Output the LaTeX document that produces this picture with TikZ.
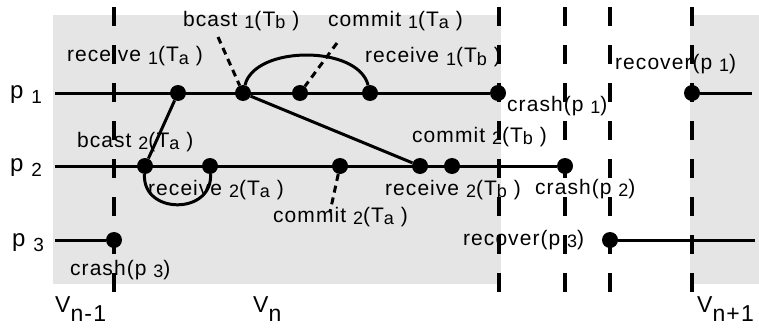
\documentclass[tikz,border=0pt]{standalone}
\usepackage{fontspec}
\setmainfont{Liberation Sans}[LetterSpace=5]
\newcommand{\lo}[1]{\raisebox{-2pt}{\fontsize{18}{18}\selectfont #1}}
\newcommand{\pidx}[1]{\raisebox{-5pt}{\fontsize{19}{19}\selectfont #1}}
\newcommand{\vidx}[1]{\raisebox{-9pt}{#1}}

\begin{document}
\begin{tikzpicture}[x=1pt, y=-1pt,
    every node/.style={font=\fontsize{21}{25}\selectfont},
    dot/.style={circle, fill=black, inner sep=0pt, minimum size=16pt},
    proc/.style={line width=3pt},
    view/.style={line width=4pt, dash pattern=on 19pt off 19pt},
    hint/.style={line width=3pt, dash pattern=on 7pt off 5pt},
    lbl/.style={anchor=base west, inner sep=0pt}]

    \useasboundingbox (0,0) rectangle (759,329);

    % Grey view areas
    \fill[gray!20] (53,15) rectangle (501,284);
    \fill[gray!20] (690,15) rectangle (759,284);

    % View boundaries
    \foreach \x in {114,499,565,610,692}
        \draw[view] (\x,7) -- (\x,295);

    % Events on p1
    \node[dot] (a1) at (178,93) {};
    \node[dot] (b1) at (243,93) {};
    \node[dot] (c1) at (300,93) {};
    \node[dot] (d1) at (370,93) {};
    \node[dot] (x1) at (498,93) {};
    \node[dot] (r1) at (692,93) {};

    % Events on p2
    \node[dot] (a2) at (145,166) {};
    \node[dot] (b2) at (210,166) {};
    \node[dot] (c2) at (340,166) {};
    \node[dot] (d2) at (420,166) {};
    \node[dot] (e2) at (452,166) {};
    \node[dot] (x2) at (565,166) {};

    % Events on p3
    \node[dot] (x3) at (114,240) {};
    \node[dot] (r3) at (610,240) {};

    % Process lines
    \coordinate (s1) at (55,93);
    \coordinate (s2) at (55,166);
    \coordinate (s3) at (55,240);
    \coordinate (t1) at (752,93);
    \coordinate (t3) at (755,240);
    \draw[proc] (s1) -- (x1);
    \draw[proc] (r1) -- (t1);
    \draw[proc] (s2) -- (x2);
    \draw[proc] (s3) -- (x3);
    \draw[proc] (r3) -- (t3);

    % Messages
    \draw[proc] (a2) -- (a1);
    \draw[proc] (b1) -- (d2);
    \draw[proc] (b1) .. controls +(12,-48) and +(-12,-48) .. (d1);
    \draw[proc] (a2) .. controls +(-3,49) and +(3,49) .. (b2);

    % Pointers from labels
    \coordinate (hb1) at (218,37);
    \coordinate (hc1) at (337,43);
    \coordinate (hc2) at (330,212);
    \draw[hint] (hb1) -- (b1);
    \draw[hint] (hc1) -- (c1);
    \draw[hint] (c2) -- (hc2);

    % Process names
    \node[lbl, font=\fontsize{24}{28}\selectfont] (p1) at (10,98) {p \pidx{1}};
    \node[lbl, font=\fontsize{24}{28}\selectfont] (p2) at (10,171) {p \pidx{2}};
    \node[lbl, font=\fontsize{24}{28}\selectfont] (p3) at (12,246) {p \pidx{3}};

    % Event labels
    \node[lbl] (la1) at (67,62) {receive \lo{1}(T\lo{a} )};
    \node[lbl] (lb1) at (183,27) {bcast \lo{1}(T\lo{b} )};
    \node[lbl] (lc1) at (328,27) {commit \lo{1}(T\lo{a} )};
    \node[lbl] (ld1) at (365,63) {receive \lo{1}(T\lo{b} )};
    \node[lbl] (lx1) at (507,111) {crash(p \lo{1})};
    \node[lbl] (lr1) at (615,69) {recover(p \lo{1})};
    \node[lbl] (la2) at (77,147) {bcast \lo{2}(T\lo{a} )};
    \node[lbl] (lb2) at (148,195) {receive \lo{2}(T\lo{a} )};
    \node[lbl] (lc2) at (273,222) {commit \lo{2}(T\lo{a} )};
    \node[lbl] (ld2) at (385,195) {receive \lo{2}(T\lo{b} )};
    \node[lbl] (le2) at (412,142) {commit \lo{2}(T\lo{b} )};
    \node[lbl] (lx2) at (535,194) {crash(p \lo{2})};
    \node[lbl] (lx3) at (70,275) {crash(p \lo{3})};
    \node[lbl] (lr3) at (463,245) {recover(p \lo{3})};

    % View names
    \node[lbl, font=\fontsize{23}{27}\selectfont] (v0) at (55,312) {V\vidx{n-1}};
    \node[lbl, font=\fontsize{23}{27}\selectfont] (v1) at (253,312) {V\vidx{n}};
    \node[lbl, font=\fontsize{23}{27}\selectfont] (v2) at (697,312) {V\vidx{n+1}};
\end{tikzpicture}
\end{document}
